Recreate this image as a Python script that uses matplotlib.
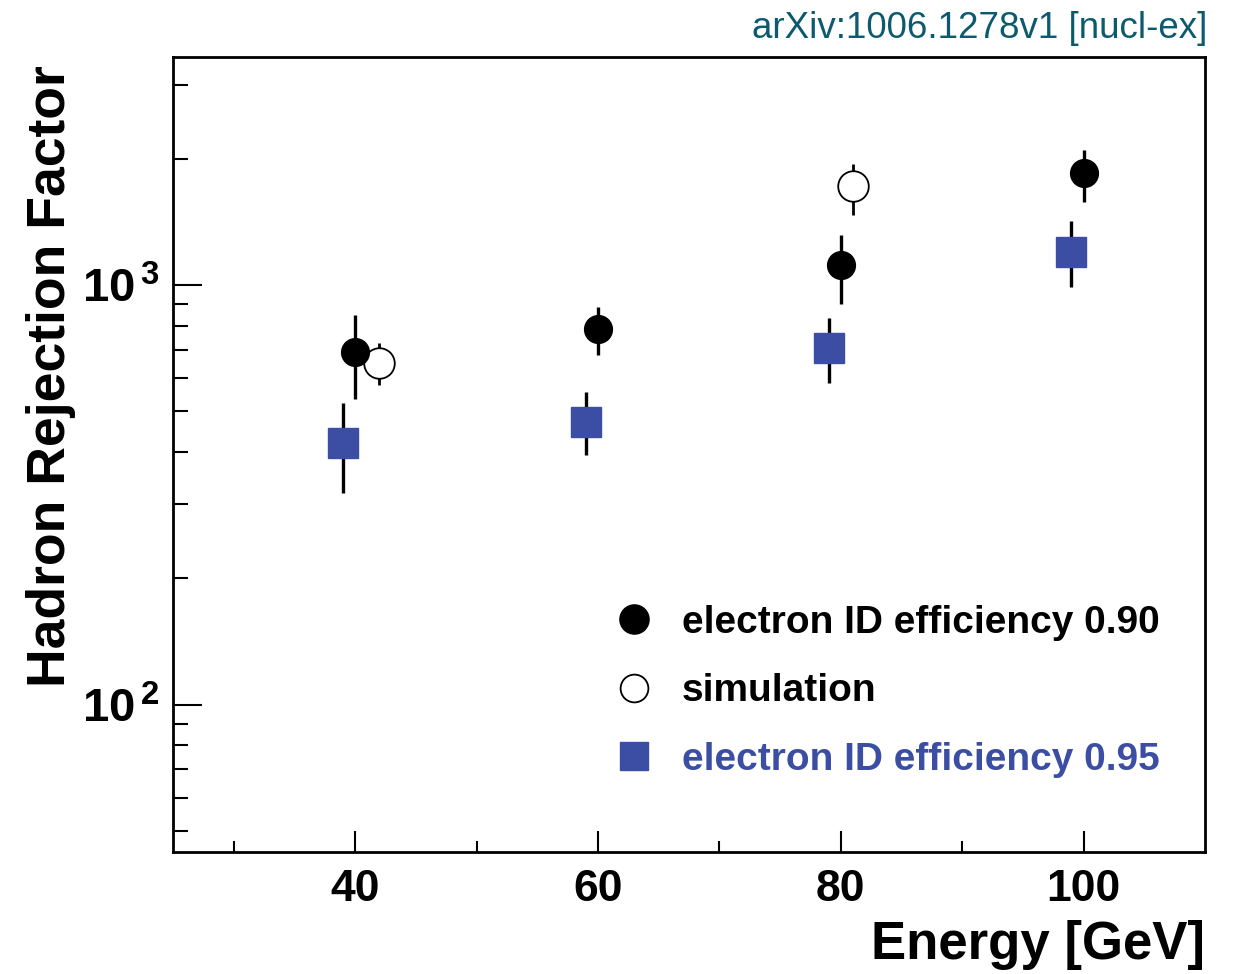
import math
import matplotlib
matplotlib.use("Agg")
import matplotlib.pyplot as plt
from matplotlib.lines import Line2D
from matplotlib.ticker import FixedLocator, FuncFormatter, LogLocator, NullFormatter

plt.rcParams['font.family'] = ['Liberation Sans', 'DejaVu Sans']
plt.rcParams['mathtext.fontset'] = 'custom'
plt.rcParams['mathtext.rm'] = 'Liberation Sans'
plt.rcParams['mathtext.bf'] = 'Liberation Sans:bold'

# electron ID efficiency 0.90 (data)
e90_x = [40, 60, 80, 100]
e90_y = [692, 785, 1116, 1850]
e90_lo = [535, 681, 901, 1578]
e90_hi = [848, 886, 1316, 2100]

# simulation
sim_x = [42, 81]
sim_y = [652, 1722]
sim_lo = [577, 1469]
sim_hi = [728, 1945]

# electron ID efficiency 0.95 (data)
e95_x = [39, 59, 79, 99]
e95_y = [420, 473, 707, 1198]
e95_lo = [319, 393, 584, 989]
e95_hi = [523, 556, 834, 1421]

labels = ["electron ID efficiency 0.90", "simulation", "electron ID efficiency 0.95"]
blue = '#3b4ea3'


def errs(y, lo, hi):
    return [[v - l for v, l in zip(y, lo)], [h - v for v, h in zip(y, hi)]]


fig = plt.figure(figsize=(12.38, 9.74), dpi=100)
ax = fig.add_axes([173 / 1238, 1 - 852 / 974, 1032 / 1238, 795 / 974])

ax.errorbar(e95_x, e95_y, yerr=errs(e95_y, e95_lo, e95_hi), fmt='s', ms=21,
            color=blue, ecolor='black', elinewidth=2.4, capsize=0, zorder=3)
ax.errorbar(e90_x, e90_y, yerr=errs(e90_y, e90_lo, e90_hi), fmt='o', ms=20,
            color='black', ecolor='black', elinewidth=2.4, capsize=0, zorder=3)
ax.errorbar(sim_x, sim_y, yerr=errs(sim_y, sim_lo, sim_hi), fmt='o', ms=22,
            mfc='white', mec='black', mew=1.3, ecolor='black', elinewidth=2.0,
            capsize=0, zorder=2)

ax.set_yscale('log')
ax.set_xlim(25, 110)
ax.set_ylim(44.5, 3500)

ax.xaxis.set_major_locator(FixedLocator([40, 60, 80, 100]))
ax.xaxis.set_minor_locator(FixedLocator([30, 50, 70, 90]))
ax.yaxis.set_major_locator(LogLocator(base=10, numticks=10))
ax.yaxis.set_minor_locator(LogLocator(base=10, subs=range(2, 10), numticks=20))
ax.yaxis.set_minor_formatter(NullFormatter())
ax.yaxis.set_major_formatter(FuncFormatter(
    lambda v, p: r'$\mathbf{10}^{\,\mathbf{%d}}$' % round(math.log10(v))))

ax.tick_params(axis='both', which='both', direction='in', top=False, right=False)
ax.tick_params(axis='x', which='major', length=15, width=1.5, pad=12)
ax.tick_params(axis='x', which='minor', length=8, width=1.5)
ax.tick_params(axis='y', which='major', length=21, width=1.5, pad=10, labelsize=34)
ax.tick_params(axis='y', which='minor', length=11, width=1.5)
for lab in ax.get_xticklabels():
    lab.set_fontweight('bold')
    lab.set_fontsize(32)
for s in ax.spines.values():
    s.set_linewidth(2.0)

ax.set_xlabel('Energy [GeV]', fontsize=38, fontweight='bold', ha='right')
ax.xaxis.set_label_coords(1.0, -0.085)
ax.set_ylabel('Hadron Rejection Factor', fontsize=38.5, fontweight='bold')
ax.yaxis.set_label_coords(-0.094, 0.599)

handles = [
    Line2D([], [], ls='none', marker='o', ms=21, color='black'),
    Line2D([], [], ls='none', marker='o', ms=20, mfc='white', mec='black', mew=1.3),
    Line2D([], [], ls='none', marker='s', ms=20, color=blue),
]
leg = ax.legend(handles, labels, loc='lower left', bbox_to_anchor=(0.386, 0.049),
                frameon=False, prop={'weight': 'bold', 'size': 28},
                labelspacing=0.84, handletextpad=0.54, handlelength=1.4)
for txt, c in zip(leg.get_texts(), ['black', 'black', blue]):
    txt.set_color(c)

fig.text(1207 / 1238, 1 - 28 / 974, 'arXiv:1006.1278v1 [nucl-ex]', ha='right',
         va='center', fontsize=26.5, color='#0c5a6e')

fig.savefig('out.png', dpi=100)
